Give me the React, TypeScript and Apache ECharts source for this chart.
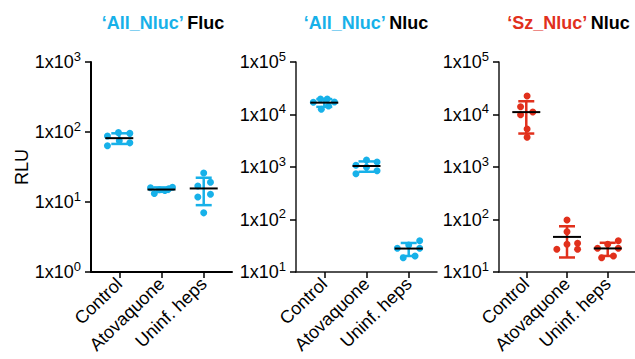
import React, { useEffect, useRef } from "react";
import * as echarts from "echarts";

const categories = ["Control", "Atovaquone", "Uninf. heps"];
const panelTitleNames = ["‘All_Nluc’", "‘All_Nluc’", "‘Sz_Nluc’"];
const panelTitleReporters = ["Fluc", "Nluc", "Nluc"];
const panelColors = ["#17b1e9", "#17b1e9", "#e1301c"];
const yMins = [1, 10, 10];
const yMaxs = [1000, 100000, 100000];

// Panel 1: 'All_Nluc' Fluc  (RLU per well, one array per group)
const allFlucControl = [87.7, 98, 95.6, 75, 70, 63.7];
const allFlucAtovaquone = [16, 16.2, 13.2, 15, 14.6, 15.4];
const allFlucUninf = [26, 19.1, 16.9, 11.8, 12.9, 7.0];
// Panel 2: 'All_Nluc' Nluc
const allNlucControl = [17060, 19730, 19730, 17300, 12560, 14520];
const allNlucAtovaquone = [1077, 1360, 1245, 745, 987, 851];
const allNlucUninf = [28.3, 32.7, 39.5, 28.3, 18.7, 20.2];
// Panel 3: 'Sz_Nluc' Nluc
const szNlucControl = [22500, 14080, 11160, 9910, 5300, 3680];
const szNlucAtovaquone = [97.9, 58.6, 27.1, 33.7, 35.2, 27.1];
const szNlucUninf = [28.3, 33.7, 39.5, 28.3, 18.7, 20.2];

// horizontal scatter of the points (category units) as in the picture
const allFlucControlJitter = [-0.28, -0.02, 0.25, 0, 0.25, -0.28];
const allFlucAtovaquoneJitter = [-0.26, 0.26, -0.17, -0.05, 0.08, 0.17];
const allFlucUninfJitter = [0, 0.16, -0.14, -0.14, 0.16, 0];
const allNlucControlJitter = [-0.26, -0.09, 0.07, 0.24, -0.07, 0.1];
const allNlucAtovaquoneJitter = [-0.25, 0, 0.25, -0.25, 0, 0.25];
const allNlucUninfJitter = [-0.27, 0, 0.26, 0.26, -0.13, 0.15];
const szNlucControlJitter = [0.02, -0.14, 0.16, -0.14, 0.02, 0.02];
const szNlucAtovaquoneJitter = [0, 0, -0.25, 0, 0.26, 0.26];
const szNlucUninfJitter = [-0.25, 0, 0.26, 0.26, -0.15, 0.14];

const panels = [
  {
    groups: [allFlucControl, allFlucAtovaquone, allFlucUninf],
    jitter: [allFlucControlJitter, allFlucAtovaquoneJitter, allFlucUninfJitter],
  },
  {
    groups: [allNlucControl, allNlucAtovaquone, allNlucUninf],
    jitter: [allNlucControlJitter, allNlucAtovaquoneJitter, allNlucUninfJitter],
  },
  {
    groups: [szNlucControl, szNlucAtovaquone, szNlucUninf],
    jitter: [szNlucControlJitter, szNlucAtovaquoneJitter, szNlucUninfJitter],
  },
];

const FONT = "'Liberation Sans', Arial, Helvetica, sans-serif";

function meanSd(arr: number[]) {
  const m = arr.reduce((a, b) => a + b, 0) / arr.length;
  const v = arr.reduce((a, b) => a + (b - m) * (b - m), 0) / (arr.length - 1);
  return [m, Math.sqrt(v)];
}

export default function App() {
  const ref = useRef<HTMLDivElement>(null);
  useEffect(() => {
    document.body.style.margin = "0";
    const chart = echarts.init(ref.current!, null, { renderer: "svg" });
    const gridLefts = [91, 296, 499];
    const titleCenters = [163, 366, 568.5];

    const grids = gridLefts.map((l) => ({ left: l, top: 62, width: 141, height: 210 }));
    const xAxes = gridLefts.map((_, i) => ({
      type: "value",
      gridIndex: i,
      min: 0.33,
      max: 3.67,
      splitLine: { show: false },
      axisLine: { show: true, lineStyle: { color: i === 0 ? "#000" : "#1a1a1a", width: i === 0 ? 2 : 1.5 } },
      axisTick: { show: true, customValues: [1, 2, 3], length: 6, lineStyle: { color: "#000", width: 1.5 } },
      axisLabel: {
        customValues: [1, 2, 3],
        formatter: (v: number) => categories[Math.round(v) - 1] || "",
        rotate: 44,
        margin: 9,
        fontSize: 18,
        fontFamily: FONT,
        color: "#000",
      },
    }));
    const yAxes = gridLefts.map((_, i) => ({
      type: "log",
      logBase: 10,
      gridIndex: i,
      min: yMins[i],
      max: yMaxs[i],
      name: i === 0 ? "RLU" : "",
      nameLocation: "middle",
      nameGap: 58,
      nameTextStyle: { fontSize: 18, fontFamily: FONT, color: "#000" },
      splitLine: { show: false },
      minorTick: { show: false },
      axisLine: { show: true, lineStyle: { color: i === 0 ? "#000" : "#1a1a1a", width: i === 0 ? 2 : 1.5 } },
      axisTick: { show: true, length: 6, lineStyle: { color: "#000", width: 1.5 } },
      axisLabel: {
        margin: 10,
        formatter: (v: number) => `{m|1x10}{s|${Math.round(Math.log10(v))}}`,
        rich: {
          m: { fontSize: 18, lineHeight: 25, fontFamily: FONT, color: "#000" },
          s: { fontSize: 13, lineHeight: 13, verticalAlign: "top", fontFamily: FONT, color: "#000" },
        },
      },
    }));

    const series: any[] = [];
    panels.forEach((p, i) => {
      const color = panelColors[i];
      const pts: number[][] = [];
      const stats: number[][] = [];
      p.groups.forEach((g, gi) => {
        g.forEach((v, k) => pts.push([gi + 1 + p.jitter[gi][k], v]));
        const [m, sd] = meanSd(g);
        stats.push([gi + 1, m, m - sd, m + sd]);
      });
      series.push({
        type: "scatter",
        xAxisIndex: i,
        yAxisIndex: i,
        data: pts,
        symbol: "circle",
        symbolSize: 7,
        itemStyle: { color, opacity: 1 },
        z: 2,
      });
      series.push({
        type: "custom",
        xAxisIndex: i,
        yAxisIndex: i,
        data: stats,
        z: 3,
        renderItem: (_params: any, api: any) => {
          const x = api.value(0);
          const pm = api.coord([x, api.value(1)]);
          const pl = api.coord([x, api.value(2)]);
          const ph = api.coord([x, api.value(3)]);
          const cap = 8;
          const mw = 14;
          const st = { stroke: color, lineWidth: 2.5 };
          return {
            type: "group",
            children: [
              { type: "line", shape: { x1: pl[0], y1: pl[1], x2: ph[0], y2: ph[1] }, style: st },
              { type: "line", shape: { x1: pl[0] - cap, y1: pl[1], x2: pl[0] + cap, y2: pl[1] }, style: st },
              { type: "line", shape: { x1: ph[0] - cap, y1: ph[1], x2: ph[0] + cap, y2: ph[1] }, style: st },
              {
                type: "line",
                shape: { x1: pm[0] - mw, y1: pm[1], x2: pm[0] + mw, y2: pm[1] },
                style: { stroke: "#000", lineWidth: 2 },
              },
            ],
          };
        },
      });
    });

    const graphic = titleCenters.map((cx, i) => ({
      type: "text",
      x: cx,
      y: 23,
      style: {
        text: `{c|${panelTitleNames[i]}} {k|${panelTitleReporters[i]}}`,
        align: "center",
        verticalAlign: "middle",
        rich: {
          c: { fill: panelColors[i], fontSize: 18, fontWeight: "bold", fontFamily: FONT },
          k: { fill: "#000", fontSize: 18, fontWeight: "bold", fontFamily: FONT },
        },
      },
    }));

    chart.setOption({
      animation: false,
      backgroundColor: "#fff",
      grid: grids,
      xAxis: xAxes,
      yAxis: yAxes,
      series,
      graphic,
    });
    return () => chart.dispose();
  }, []);
  return <div ref={ref} style={{ width: 635, height: 359, position: "fixed", left: 0, top: 0 }} />;
}
